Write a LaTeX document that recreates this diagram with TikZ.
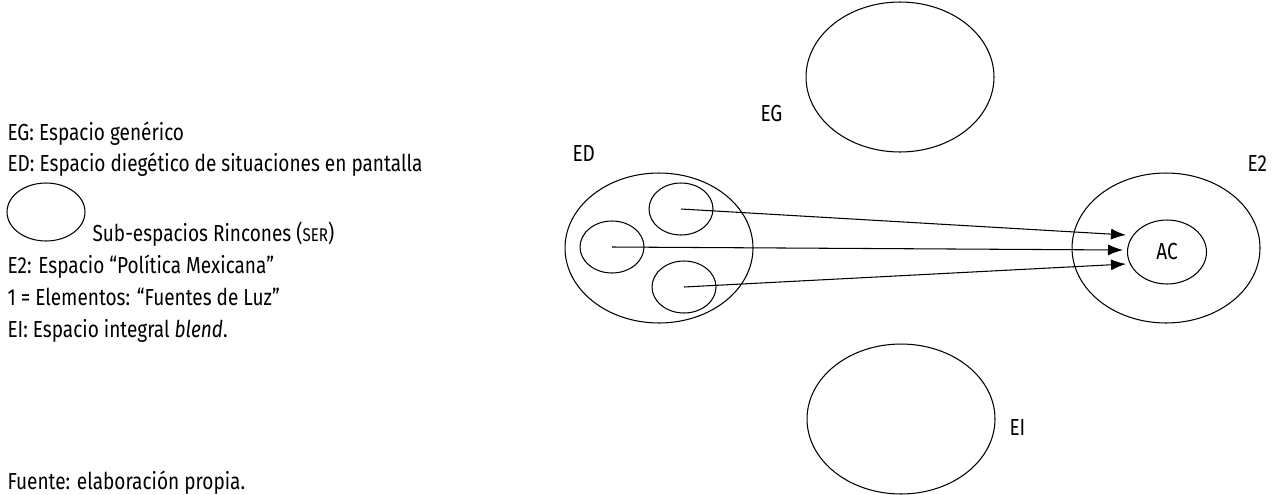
\documentclass[tikz,border=0pt]{standalone}
\usepackage{fontspec}
\setmainfont{Fira Sans}[FakeStretch=0.82]
\usetikzlibrary{arrows.meta,calc,positioning,shapes.geometric}

\begin{document}
\begin{tikzpicture}[x=0.02cm,y=-0.02cm,>=Latex,line width=0.6pt,
  texto/.style={inner sep=0pt,anchor=base west,font=\fontsize{13.2}{15}\selectfont},
  espacio/.style={draw,ellipse,inner sep=0pt,minimum width=3.76cm,minimum height=3cm},
  subespacio/.style={draw,ellipse,inner sep=0pt,minimum width=1.28cm,minimum height=1.04cm},
  flecha/.style={-{Latex[length=3mm,width=2.2mm]}}]
  \useasboundingbox (0,0) rectangle (1283,494);

  % Legend
  \node[texto] (leg-eg) at (7,140) {EG: Espacio genérico};
  \node[texto] (leg-ed) at (7,171) {ED: Espacio diegético de situaciones en pantalla};
  \node[subespacio,minimum width=1.56cm,minimum height=1.16cm] (leg-ser) at (46,212) {};
  \node[texto] (leg-sr) at (92,241) {Sub-espacios Rincones ({\fontsize{10.5}{12}\selectfont SER})};
  \node[texto] (leg-e2) at (7,273) {E2: Espacio “Política Mexicana”};
  \node[texto] (leg-el) at (7,305) {1 = Elementos: “Fuentes de Luz”};
  \node[texto] (leg-ei) at (7,337) {EI: Espacio integral \textit{blend}.};
  \node[texto] (fuente) at (7,489) {Fuente: elaboración propia.};

  % Spaces
  \node[espacio] (eg) at (900,77) {};
  \node[espacio] (ed) at (659,248) {};
  \node[espacio] (e2) at (1166,248) {};
  \node[espacio] (ei) at (901,419) {};
  \node[texto] (lbl-eg) at (760,121) {EG};
  \node[texto] (lbl-ed) at (572,161) {ED};
  \node[texto] (lbl-e2) at (1247,171) {E2};
  \node[texto] (lbl-ei) at (1009,435) {EI};

  % Sub-spaces inside ED and the core AC inside E2
  \node[subespacio] (sr1) at (681,209) {};
  \node[subespacio] (sr2) at (612,247) {};
  \node[subespacio] (sr3) at (684,287) {};
  \node[subespacio,minimum width=1.58cm,minimum height=1.28cm,
    font=\fontsize{13.2}{15}\selectfont] (ac) at (1167,252) {AC};

  % Projections onto AC
  \draw[flecha] (sr1.center) -- ($(ac.west)+(-1,-17)$);
  \draw[flecha] (sr2.center) -- ($(ac.west)+(-4,-2)$);
  \draw[flecha] (sr3.center) -- ($(ac.west)+(-1,12)$);
\end{tikzpicture}
\end{document}
